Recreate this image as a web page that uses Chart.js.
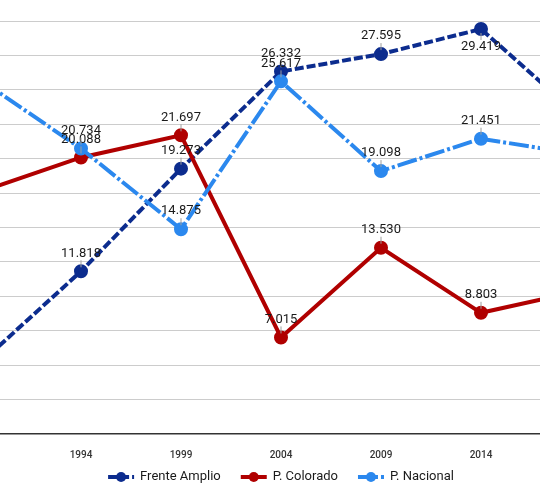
<!DOCTYPE html>
<html>
<head>
<meta charset="utf-8">
<script src="https://cdn.jsdelivr.net/npm/chart.js"></script>
<style>
  html, body { margin: 0; padding: 0; background: #fff; overflow: hidden; }
  body { width: 540px; height: 501px; position: relative; }
  #wrap { position: absolute; left: -19px; top: 0; width: 600px; height: 501px; }
</style>
</head>
<body>
<div id="wrap"><canvas id="votesChart"></canvas></div>
<script>
// Election years (first and last fall outside the visible crop)
const years = ['1989', '1994', '1999', '2004', '2009', '2014', '2019'];

// Votes per party
const frenteAmplio = [5200, 11818, 19273, 26332, 27595, 29419, 22960];
const colorado = [17600, 20088, 21697, 7015, 13530, 8803, 10400];
const nacional = [25700, 20734, 14875, 25617, 19098, 21451, 20300];

// Y axis ticks
const yMin = 0;
const yMax = 30000;
const yStep = 2500;

const seriesNames = ['Frente Amplio', 'P. Colorado', 'P. Nacional'];

const FONT = 'Roboto, "Noto Sans", sans-serif';

function formatVotes(v) {
    return Math.round(v).toString().replace(/\B(?=(\d{3})+(?!\d))/g, '.');
}

// Value labels above each point with a short leader line
const valueLabels = {
    id: 'valueLabels',
    afterDatasetsDraw(chart) {
        const ctx = chart.ctx;
        const top = chart.chartArea.top;
        ctx.save();
        ctx.font = '13px ' + FONT;
        ctx.textAlign = 'center';
        ctx.textBaseline = 'middle';
        chart.data.datasets.forEach((ds, i) => {
            const meta = chart.getDatasetMeta(i);
            meta.data.forEach((pt, j) => {
                // edge years are cut off by the crop
                if (j === 0 || j === meta.data.length - 1) return;
                const x = pt.x, y = pt.y;
                let ty = y - 18;
                let below = false;
                if (ty - 7 < top) { ty = y + 18; below = true; }
                ctx.strokeStyle = '#9e9e9e';
                ctx.lineWidth = 1;
                ctx.beginPath();
                if (below) { ctx.moveTo(x, y + 4); ctx.lineTo(x, ty - 7); }
                else { ctx.moveTo(x, ty + 7); ctx.lineTo(x, y - 4); }
                ctx.stroke();
                ctx.fillStyle = '#1a1a1a';
                ctx.fillText(formatVotes(ds.data[j]), x, ty);
            });
        });
        ctx.restore();
    }
};

// Legend drawn at the bottom, centred on the canvas
const bottomLegend = {
    id: 'bottomLegend',
    afterDraw(chart) {
        const ctx = chart.ctx;
        const cy = 477;
        const symW = 26, symGap = 6, itemGap = 20;
        ctx.save();
        ctx.font = '13px ' + FONT;
        const items = chart.data.datasets.map(ds => ({ ds: ds, w: ctx.measureText(ds.label).width }));
        let total = 0;
        items.forEach((it, i) => { total += symW + symGap + it.w + (i ? itemGap : 0); });
        let x = chart.width / 2 - total / 2;
        items.forEach(it => {
            const ds = it.ds;
            ctx.strokeStyle = ds.borderColor;
            ctx.lineWidth = 4;
            ctx.setLineDash(ds.legendDash || []);
            ctx.beginPath();
            ctx.moveTo(x, cy);
            ctx.lineTo(x + symW, cy);
            ctx.stroke();
            ctx.setLineDash([]);
            ctx.fillStyle = ds.borderColor;
            ctx.beginPath();
            ctx.arc(x + symW / 2, cy, 5, 0, Math.PI * 2);
            ctx.fill();
            x += symW + symGap;
            ctx.fillStyle = '#1a1a1a';
            ctx.textAlign = 'left';
            ctx.textBaseline = 'middle';
            ctx.fillText(ds.label, x, cy);
            x += it.w + itemGap;
        });
        ctx.restore();
    }
};

new Chart(document.getElementById('votesChart'), {
    type: 'line',
    data: {
        labels: years,
        datasets: [{
            label: seriesNames[0],
            data: frenteAmplio,
            borderColor: '#0c2c8e',
            backgroundColor: '#0c2c8e',
            borderWidth: 4,
            borderDash: [9, 3],
            legendDash: [9, 3],
            pointRadius: 5,
            order: 3
        }, {
            label: seriesNames[1],
            data: colorado,
            borderColor: '#b00000',
            backgroundColor: '#b00000',
            borderWidth: 4,
            pointRadius: 5,
            order: 2
        }, {
            label: seriesNames[2],
            data: nacional,
            borderColor: '#2b88ee',
            backgroundColor: '#2b88ee',
            borderWidth: 4,
            borderDash: [20, 3, 3, 3],
            legendDash: [14, 3, 3, 3],
            pointRadius: 5,
            order: 1
        }]
    },
    options: {
        responsive: true,
        maintainAspectRatio: false,
        animation: false,
        layout: { autoPadding: false, padding: { top: 21, left: 0, right: 0, bottom: 0 } },
        plugins: {
            legend: { display: false },
            tooltip: { enabled: false }
        },
        scales: {
            x: {
                grid: { display: false },
                border: { display: true, color: '#333', width: 1.5 },
                ticks: {
                    autoSkip: false,
                    maxRotation: 0,
                    padding: 7,
                    color: '#333',
                    font: { family: FONT, size: 10, weight: '500' },
                    callback: function(value, index, ticks) {
                        if (index === 0 || index === ticks.length - 1) return '';
                        return this.getLabelForValue(value);
                    }
                },
                afterFit: function(scale) {
                    scale.height = 67;
                    scale.paddingLeft = 0;
                    scale.paddingRight = 0;
                }
            },
            y: {
                min: yMin,
                max: yMax,
                ticks: { display: false, stepSize: yStep },
                border: { display: false },
                grid: {
                    drawTicks: false,
                    color: ctx => (ctx.tick && ctx.tick.value === 0) ? 'rgba(0,0,0,0)' : '#cccccc',
                    lineWidth: 1
                },
                afterFit: function(scale) { scale.width = 0; }
            }
        }
    },
    plugins: [valueLabels, bottomLegend]
});
</script>
</body>
</html>
